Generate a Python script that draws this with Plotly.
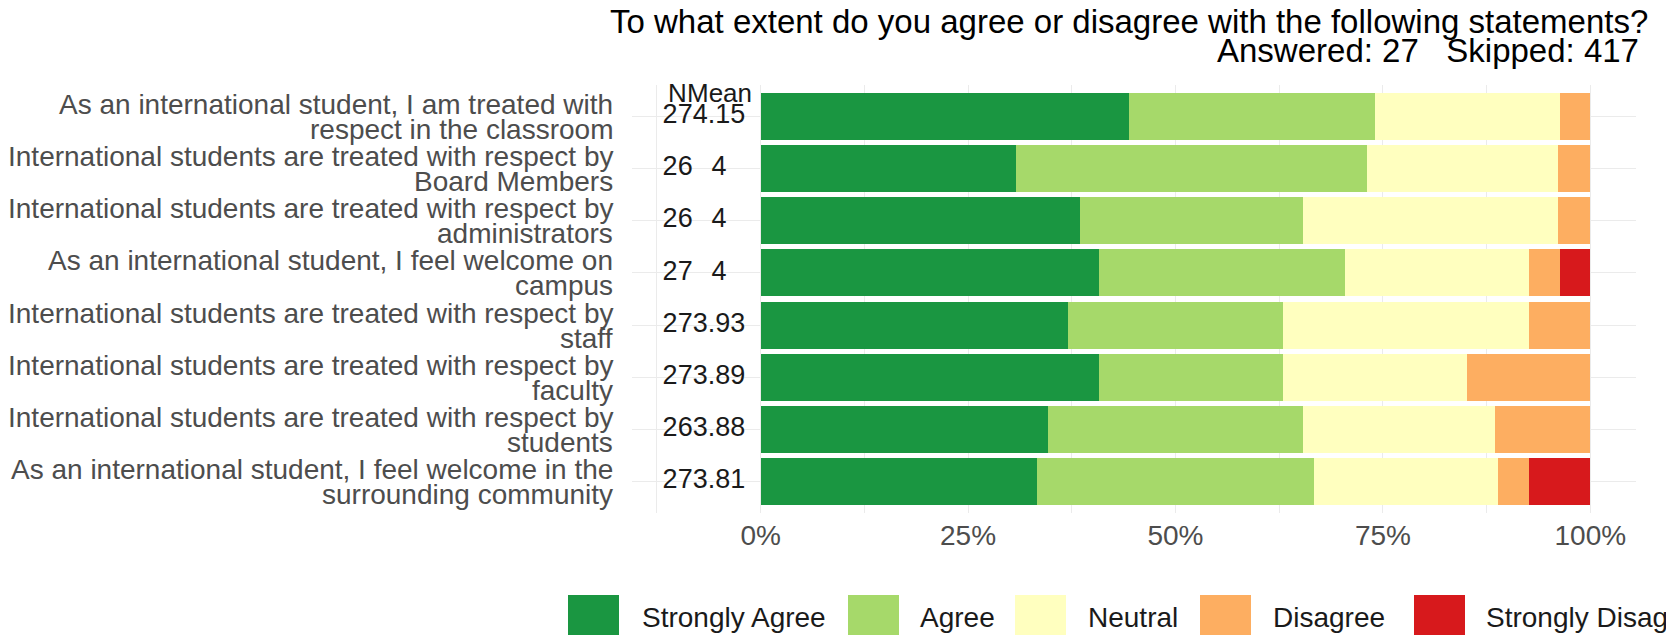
import plotly.graph_objects as go

# ---------------- data ----------------
statements = [
    "As an international student, I am treated with\nrespect in the classroom",
    "International students are treated with respect by\nBoard Members",
    "International students are treated with respect by\nadministrators",
    "As an international student, I feel welcome on\ncampus",
    "International students are treated with respect by\nstaff",
    "International students are treated with respect by\nfaculty",
    "International students are treated with respect by\nstudents",
    "As an international student, I feel welcome in the\nsurrounding community",
]
n_resp = [27, 26, 26, 27, 27, 27, 26, 27]
mean_labels = ["4.15", "4", "4", "4", "3.93", "3.89", "3.88", "3.81"]

levels = ["Strongly Agree", "Agree", "Neutral", "Disagree", "Strongly Disagree"]
colors = ["#1A9641", "#A6D96A", "#FFFFBF", "#FDAE61", "#D7191C"]

strongly_agree = [12, 8, 10, 11, 10, 11, 9, 9]
agree = [8, 11, 7, 8, 7, 6, 8, 9]
neutral = [6, 6, 8, 6, 8, 6, 6, 6]
disagree = [1, 1, 1, 1, 2, 4, 3, 1]
strongly_disagree = [0, 0, 0, 1, 0, 0, 0, 2]

tick_vals = [0, 0.25, 0.5, 0.75, 1.0]
tick_text = ["0%", "25%", "50%", "75%", "100%"]

title_line1 = "To what extent do you agree or disagree with the following statements?"
title_line2 = "Answered: 27&nbsp;&nbsp; Skipped: 417"

# ---------------- layout constants ----------------
W, H = 1666, 635
L, R, T, B = 632, 30, 85, 122
PW, PH = W - L - R, H - T - B
FONT = "Liberation Sans, Arial, sans-serif"


def px(x):
    return (x - L) / PW


def py(y):
    return (H - B - y) / PH


counts = [strongly_agree, agree, neutral, disagree, strongly_disagree]
rows = list(range(len(statements)))

fig = go.Figure()
for lvl, col, cnt in zip(levels, colors, counts):
    shares = [c / n for c, n in zip(cnt, n_resp)]
    fig.add_trace(go.Bar(
        x=shares, y=rows, orientation="h", width=0.9, name=lvl,
        marker=dict(color=col, line=dict(width=0)), showlegend=False,
        hoverinfo="name+x",
    ))

# N and Mean columns
fig.add_trace(go.Scatter(
    x=[-0.1] * len(rows), y=rows, mode="text", text=[str(n) for n in n_resp],
    textfont=dict(family=FONT, size=27, color="#1A1A1A"), showlegend=False,
    cliponaxis=False, hoverinfo="skip",
))
fig.add_trace(go.Scatter(
    x=[-0.05] * len(rows), y=rows, mode="text", text=mean_labels,
    textfont=dict(family=FONT, size=27, color="#1A1A1A"), showlegend=False,
    cliponaxis=False, hoverinfo="skip",
))

annotations = []
annotations.append(dict(x=-0.1, y=-0.44, xref="x", yref="y", text="N", showarrow=False,
                        font=dict(family=FONT, size=26, color="#1A1A1A"), xanchor="center", yanchor="middle"))
annotations.append(dict(x=-0.05, y=-0.44, xref="x", yref="y", text="Mean", showarrow=False,
                        font=dict(family=FONT, size=26, color="#1A1A1A"), xanchor="center", yanchor="middle"))

# y-axis labels (two lines each, tight line height)
for i, s in enumerate(statements):
    l1, l2 = s.split("\n")
    for txt, shift in ((l1, 12), (l2, -13)):
        annotations.append(dict(
            x=px(615), y=i, xref="paper", yref="y", text=txt, showarrow=False,
            xanchor="right", yanchor="middle", yshift=shift, align="right",
            font=dict(family=FONT, size=28, color="#4D4D4D"),
        ))

# title (two right-aligned lines with tight line height)
annotations.append(dict(x=px(1650), y=py(22), xref="paper", yref="paper", text=title_line1,
                        showarrow=False, xanchor="right", yanchor="middle",
                        font=dict(family=FONT, size=33, color="#000000")))
annotations.append(dict(x=px(1641), y=py(50), xref="paper", yref="paper", text=title_line2,
                        showarrow=False, xanchor="right", yanchor="middle",
                        font=dict(family=FONT, size=33, color="#000000")))

# legend (large swatches, as in the reference)
shapes = []
sw_x = [568, 848, 1015, 1200, 1414]
tx_x = [640, 918, 1086, 1271, 1484]
for lvl, col, sx, tx in zip(levels, colors, sw_x, tx_x):
    shapes.append(dict(type="rect", xref="paper", yref="paper",
                       x0=px(sx), x1=px(sx + 51), y0=py(595), y1=py(645),
                       fillcolor=col, line=dict(width=0)))
    annotations.append(dict(x=px(tx), y=py(617), xref="paper", yref="paper", text=lvl,
                            showarrow=False, xanchor="left", yanchor="middle",
                            font=dict(family=FONT, size=28, color="#1A1A1A")))

fig.update_layout(
    width=W, height=H,
    margin=dict(l=L, r=R, t=T, b=B, pad=0),
    barmode="stack",
    bargap=0.1,
    plot_bgcolor="white", paper_bgcolor="white",
    font=dict(family=FONT, color="#4D4D4D"),
    annotations=annotations,
    shapes=shapes,
    showlegend=False,
    xaxis=dict(
        range=[-0.155, 1.055], tickvals=tick_vals, ticktext=tick_text,
        showgrid=True, gridcolor="#EBEBEB", gridwidth=1.2,
        minor=dict(dtick=0.125, tick0=0, showgrid=True, gridcolor="#EBEBEB", gridwidth=0.8),
        zeroline=False, showline=False, ticks="",
        tickfont=dict(family=FONT, size=28, color="#4D4D4D"),
        ticklabelstandoff=3, automargin=False,
    ),
    yaxis=dict(
        range=[7.6, -0.6], tickvals=rows, showticklabels=False,
        showgrid=True, gridcolor="#EBEBEB", gridwidth=1.2,
        zeroline=False, showline=False, ticks="", automargin=False,
    ),
)

fig.write_html("out.html", config={"displayModeBar": False},
               post_script="document.body.style.margin='0';document.body.style.overflow='hidden';")
